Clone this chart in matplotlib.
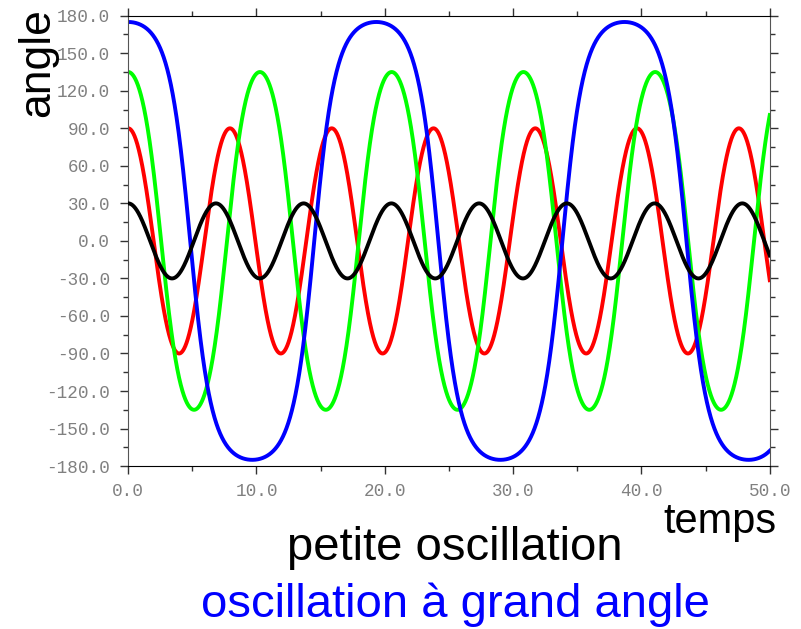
import numpy as np
import matplotlib
matplotlib.use('Agg')
import matplotlib.pyplot as plt
from matplotlib.ticker import MultipleLocator, FormatStrFormatter

# Donnees
amplitudes = [30.0, 90.0, 135.0, 175.0]      # angle initial (degres)
couleurs = ['black', 'red', '#00ff00', 'blue']
periode_petite = 6.72                         # periode des petites oscillations
t_max = 50.0

plt.rcParams['axes.unicode_minus'] = False


def pendule(theta0_deg, w0, t_fin, dt=0.01):
    # integration RK4 de theta'' = -w0^2 sin(theta)
    n = int(round(t_fin / dt)) + 1
    t = np.linspace(0, t_fin, n)
    th = np.radians(theta0_deg)
    om = 0.0
    res = np.empty(n)
    res[0] = th
    f = lambda a: -w0 ** 2 * np.sin(a)
    for i in range(1, n):
        k1t, k1o = om, f(th)
        k2t, k2o = om + 0.5 * dt * k1o, f(th + 0.5 * dt * k1t)
        k3t, k3o = om + 0.5 * dt * k2o, f(th + 0.5 * dt * k2t)
        k4t, k4o = om + dt * k3o, f(th + dt * k3t)
        th += dt / 6 * (k1t + 2 * k2t + 2 * k3t + k4t)
        om += dt / 6 * (k1o + 2 * k2o + 2 * k3o + k4o)
        res[i] = th
    return t, np.degrees(res)


w0 = 2 * np.pi / periode_petite

fig = plt.figure(figsize=(8.01, 6.29), dpi=100)
ax = fig.add_axes([0.160, 0.259, 0.801, 0.716])

for a, c in zip(amplitudes, couleurs):
    t, th = pendule(a, w0, t_max)
    ax.plot(t, th, color=c, lw=2.8, zorder=3 if c == 'black' else 2)

ax.set_xlim(0, 50)
ax.set_ylim(-180, 180)
ax.xaxis.set_major_locator(MultipleLocator(10))
ax.xaxis.set_minor_locator(MultipleLocator(5))
ax.yaxis.set_major_locator(MultipleLocator(30))
ax.yaxis.set_minor_locator(MultipleLocator(15))
ax.xaxis.set_major_formatter(FormatStrFormatter('%.1f'))
ax.yaxis.set_major_formatter(FormatStrFormatter('%.1f'))

ax.tick_params(which='both', direction='out', top=True, right=True,
               color='#333333', width=1.0)
ax.tick_params(which='major', length=6)
ax.tick_params(which='minor', length=3.8)
ax.tick_params(axis='y', which='major', pad=7)
ax.tick_params(axis='x', which='major', pad=6)
for lab in ax.get_xticklabels() + ax.get_yticklabels():
    lab.set_fontfamily('Liberation Mono')
    lab.set_fontsize(12.7)
    lab.set_color('#808080')

for s in ['left', 'right']:
    ax.spines[s].set_color('#555555')
for s in ['top', 'bottom']:
    ax.spines[s].set_color('black')

police = 'Liberation Sans'
fig.text(0.047, 0.90, 'angle', rotation=90, fontsize=32, family=police,
         ha='center', va='center')
fig.text(0.899, 0.170, 'temps', fontsize=30, family=police,
         ha='center', va='center')
fig.text(0.568, 0.128, 'petite oscillation', fontsize=34, family=police,
         ha='center', va='center', color='black')
fig.text(0.568, 0.038, 'oscillation à grand angle', fontsize=34,
         family=police, ha='center', va='center', color='blue')

fig.savefig('out.png', dpi=100)
